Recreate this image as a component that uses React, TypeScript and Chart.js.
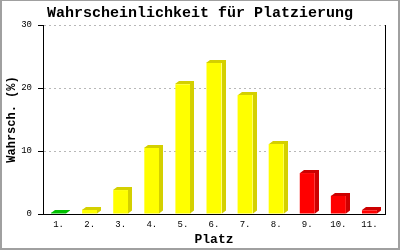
import { useEffect, useRef } from "react";
import { Chart, registerables } from "chart.js";

Chart.register(...registerables);

const categories = ["1.", "2.", "3.", "4.", "5.", "6.", "7.", "8.", "9.", "10.", "11."];
const probabilities = [0.2, 0.7, 3.8, 10.5, 20.6, 24.0, 18.9, 11.1, 6.5, 2.9, 0.6];
const frontColors = ["#00cc00", "#ffff00", "#ffff00", "#ffff00", "#ffff00", "#ffff00", "#ffff00", "#ffff00", "#ff0000", "#ff0000", "#ff0000"];
const sideColors = ["#00c000", "#d4d000", "#d4d000", "#d4d000", "#d4d000", "#d4d000", "#d4d000", "#d4d000", "#cc0000", "#cc0000", "#cc0000"];
const yMin = 0;
const yMax = 30;
const yStep = 10;

const titleText = "Wahrscheinlichkeit für Platzierung";
const xTitle = "Platz";
const yTitle = "Wahrsch. (%)";

const FONT = "'Liberation Mono', 'DejaVu Sans Mono', monospace";
const DX = 4;
const DY = 3;

const bar3d = {
  id: "bar3d",
  afterDatasetsDraw(chart: any) {
    const ctx = chart.ctx;
    const meta = chart.getDatasetMeta(0);
    ctx.save();
    meta.data.forEach((el: any, i: number) => {
      const { x, y, base, width } = el.getProps(["x", "y", "base", "width"], true);
      const l = Math.round(x - width / 2);
      const r = Math.round(x + width / 2);
      const t = Math.round(y);
      ctx.fillStyle = sideColors[i];
      ctx.beginPath();
      ctx.moveTo(l, t);
      ctx.lineTo(l + DX, t - DY);
      ctx.lineTo(r + DX, t - DY);
      ctx.lineTo(r + DX, base - DY);
      ctx.lineTo(r, base);
      ctx.lineTo(r, t);
      ctx.closePath();
      ctx.fill();
    });
    ctx.restore();
  },
  afterDraw(chart: any) {
    const ctx = chart.ctx;
    ctx.save();
    ctx.fillStyle = "#a0a0a0";
    ctx.fillRect(0, 0, 400, 1);
    ctx.fillRect(0, 0, 2, 250);
    ctx.fillRect(398, 0, 2, 250);
    ctx.fillRect(0, 248, 400, 2);
    ctx.restore();
  },
};

export default function App() {
  const ref = useRef<HTMLCanvasElement | null>(null);

  useEffect(() => {
    if (!ref.current) return;
    const chart = new Chart(ref.current, {
      type: "bar",
      data: {
        labels: categories,
        datasets: [
          {
            data: probabilities,
            backgroundColor: frontColors,
            borderWidth: 0,
            barPercentage: 0.965,
            categoryPercentage: 0.5,
          },
        ],
      },
      options: {
        responsive: false,
        animation: false,
        devicePixelRatio: 1,
        layout: { padding: 0 },
        plugins: {
          legend: { display: false },
          tooltip: { enabled: false },
          title: {
            display: true,
            text: titleText,
            color: "#000",
            font: { family: FONT, size: 15, weight: "bold", lineHeight: 1 },
            padding: { top: 6, bottom: 4 },
          },
        },
        scales: {
          x: {
            grid: { display: false, drawTicks: false, tickLength: 0 },
            border: { display: true, color: "#000", width: 1 },
            ticks: {
              color: "#000",
              font: { family: FONT, size: 9 },
              padding: 5,
              maxRotation: 0,
              autoSkip: false,
            },
            title: {
              display: true,
              text: xTitle,
              color: "#000",
              font: { family: FONT, size: 13, weight: "bold", lineHeight: 1.2 },
              padding: { top: 0, bottom: 2 },
            },
            afterFit: (s: any) => {
              s.height = 36;
            },
          },
          y: {
            min: yMin,
            max: yMax,
            ticks: {
              stepSize: yStep,
              color: "#000",
              font: { family: FONT, size: 9 },
              padding: 6,
            },
            grid: {
              color: "#b8b8b8",
              lineWidth: 1,
              tickLength: 5,
              tickColor: "#000",
              tickBorderDash: [],
            },
            border: { display: true, color: "#000", width: 1, dash: [2, 3] },
            title: {
              display: true,
              text: yTitle,
              color: "#000",
              font: { family: FONT, size: 12, weight: "bold", lineHeight: 1.2 },
              padding: { top: 5, bottom: 0 },
            },
            afterFit: (s: any) => {
              s.width = 43;
            },
          },
          y2: {
            position: "right",
            min: yMin,
            max: yMax,
            ticks: { display: false },
            grid: { display: false, drawTicks: false, tickLength: 0 },
            border: { display: true, color: "#000", width: 1 },
            afterFit: (s: any) => {
              s.width = 15;
            },
          },
        },
      },
      plugins: [bar3d],
    } as any);
    return () => chart.destroy();
  }, []);

  return (
    <div style={{ position: "absolute", left: 0, top: 0, width: 400, height: 250, background: "#fff" }}>
      <canvas ref={ref} width={400} height={250} style={{ display: "block" }} />
    </div>
  );
}
